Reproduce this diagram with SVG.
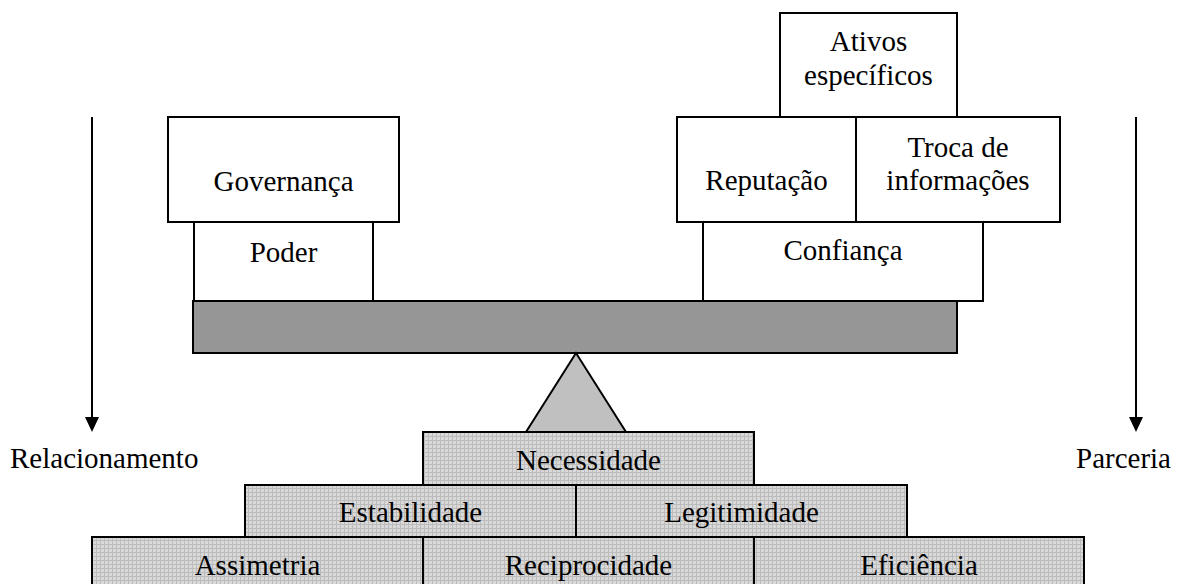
<svg xmlns="http://www.w3.org/2000/svg" width="1181" height="584" viewBox="0 0 1181 584">
<defs>
<pattern id="hatch" width="4" height="4" patternUnits="userSpaceOnUse">
<rect width="4" height="4" fill="#d9d9d9"/>
<path d="M0 0.5H4M0.5 0V4" stroke="#bcbcbc" stroke-width="1"/>
</pattern>
<style>
.box{fill:#fff;stroke:#000;stroke-width:2}
.pyr{fill:url(#hatch);stroke:#000;stroke-width:2}
.bar{fill:#969696;stroke:#000;stroke-width:2}
.tri{fill:#c0c0c0;stroke:#000;stroke-width:2}
text{font-family:"Liberation Serif","Times New Roman",serif;font-size:29px;fill:#000;text-anchor:middle}
.l{text-anchor:start}
.arr{stroke:#000;stroke-width:2;fill:none}
</style>
</defs>
<rect width="1181" height="584" fill="#fff"/>

<g id="connectors">
<line class="arr" x1="92" y1="117" x2="92" y2="420"/>
<polygon points="85,417 99,417 92,432" fill="#000"/>
<line class="arr" x1="1136" y1="117" x2="1136" y2="420"/>
<polygon points="1129,417 1143,417 1136,432" fill="#000"/>
</g>

<g id="label-relacionamento"><text class="l" x="10" y="468">Relacionamento</text></g>
<g id="label-parceria"><text class="l" x="1076" y="468">Parceria</text></g>

<g id="node-poder"><rect class="box" x="194" y="222" width="179" height="79"/><text x="283.5" y="262">Poder</text></g>
<g id="node-governanca"><rect class="box" x="168" y="117" width="231" height="105"/><text x="283.5" y="191">Governança</text></g>

<g id="node-confianca"><rect class="box" x="703" y="222" width="280" height="79"/><text x="843" y="260">Confiança</text></g>
<g id="node-reputacao"><rect class="box" x="677" y="117" width="179" height="105"/><text x="766.5" y="190">Reputação</text></g>
<g id="node-troca"><rect class="box" x="856" y="117" width="204" height="105"/><text x="958" y="157">Troca de</text><text x="958" y="190">informações</text></g>
<g id="node-ativos"><rect class="box" x="780" y="13" width="177" height="104"/><text x="868.5" y="51">Ativos</text><text x="868.5" y="85">específicos</text></g>

<g id="node-bar"><rect class="bar" x="193" y="301" width="764" height="52"/></g>
<g id="node-fulcrum"><polygon class="tri" points="576,353 526,432 626,432"/></g>

<g id="node-necessidade"><rect class="pyr" x="423" y="432" width="331" height="53"/><text x="588.5" y="470">Necessidade</text></g>
<g id="node-estabilidade"><rect class="pyr" x="245" y="485" width="331" height="52"/><text x="410.5" y="522">Estabilidade</text></g>
<g id="node-legitimidade"><rect class="pyr" x="576" y="485" width="331" height="52"/><text x="741.5" y="522">Legitimidade</text></g>
<g id="node-assimetria"><rect class="pyr" x="92" y="537" width="331" height="55"/><text x="257.5" y="575">Assimetria</text></g>
<g id="node-reciprocidade"><rect class="pyr" x="423" y="537" width="331" height="55"/><text x="588.5" y="575">Reciprocidade</text></g>
<g id="node-eficiencia"><rect class="pyr" x="754" y="537" width="330" height="55"/><text x="919" y="575">Eficiência</text></g>
</svg>
